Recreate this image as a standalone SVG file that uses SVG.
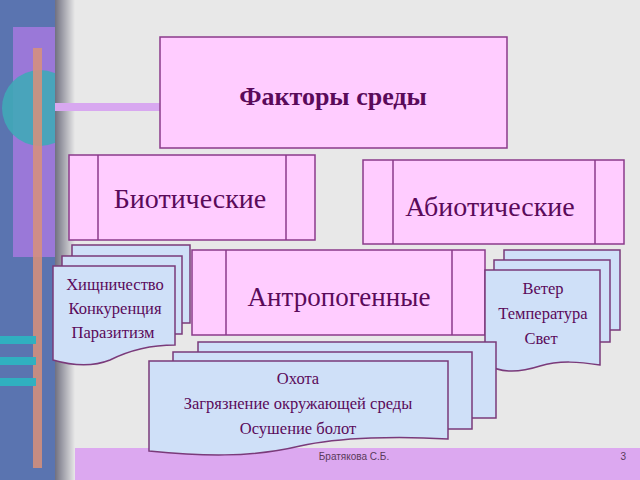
<svg xmlns="http://www.w3.org/2000/svg" width="640" height="480" viewBox="0 0 640 480">
<defs>
<linearGradient id="sh" x1="0" x2="1"><stop offset="0" stop-color="#707080"/><stop offset="1" stop-color="#e8e8e8"/></linearGradient>
<clipPath id="strip"><rect x="0" y="0" width="55" height="480"/></clipPath>
<style>
.pk{fill:#ffccff;stroke:#8b3a8b;stroke-width:1.5}
.dc{fill:#cfe0f8;stroke:#7a3a7a;stroke-width:1.5}
.t{fill:#5a0a5a;text-anchor:middle}
</style>
</defs>
<rect width="640" height="480" fill="#e8e8e8"/>
<g clip-path="url(#strip)">
<rect x="0" y="0" width="55" height="480" fill="#5a74b0"/>
<rect x="13" y="27" width="42" height="230" fill="#9a78d8"/>
<circle cx="40" cy="108" r="38" fill="#40a8b8" opacity="0.9"/>
<rect x="33" y="48" width="9" height="420" fill="#d8907a" opacity="0.85"/>
<rect x="0" y="336" width="36" height="8" fill="#30b0c0"/>
<rect x="0" y="357" width="36" height="8" fill="#30b0c0"/>
<rect x="0" y="378" width="36" height="8" fill="#30b0c0"/>
</g>
<rect x="55" y="0" width="20" height="480" fill="url(#sh)"/>
<rect x="55" y="103" width="105" height="8" fill="#d8a8f0"/>
<rect x="75" y="448" width="565" height="32" fill="#dca8f0"/>
<g font-family="'Liberation Serif','DejaVu Serif',serif">
<g id="title"><rect class="pk" x="160" y="37" width="347" height="111"/><text class="t" x="333" y="105" font-size="26" font-weight="bold">Факторы среды</text></g>
<g id="biotic"><rect class="pk" x="69" y="155" width="246" height="85"/><line class="pk" x1="98" y1="155" x2="98" y2="240"/><line class="pk" x1="286" y1="155" x2="286" y2="240"/><text class="t" x="190" y="208" font-size="28">Биотические</text></g>
<g id="abiotic"><rect class="pk" x="363" y="160" width="261" height="84"/><line class="pk" x1="393" y1="160" x2="393" y2="244"/><line class="pk" x1="595" y1="160" x2="595" y2="244"/><text class="t" x="490" y="216" font-size="28">Абиотические</text></g>
<g id="left-docs">
<rect class="dc" x="72" y="245" width="118" height="78"/>
<rect class="dc" x="62" y="256" width="120" height="78"/>
<path class="dc" d="M53 266H175V345C150 345 130 350 110 360 90 368 70 365 53 360Z"/>
<text class="t" x="115" y="290" font-size="16.5">Хищничество</text>
<text class="t" x="115" y="314" font-size="16.5">Конкуренция</text>
<text class="t" x="113" y="338" font-size="16.5">Паразитизм</text>
</g>
<g id="anthro"><rect class="pk" x="192" y="250" width="293" height="85"/><line class="pk" x1="226" y1="250" x2="226" y2="335"/><line class="pk" x1="452" y1="250" x2="452" y2="335"/><text class="t" x="339" y="306" font-size="27">Антропогенные</text></g>
<g id="right-docs">
<rect class="dc" x="504" y="250" width="116" height="80"/>
<rect class="dc" x="494" y="260" width="116" height="82"/>
<path class="dc" d="M485 270H600V365C580 362 560 360 540 366 515 374 500 372 485 364Z"/>
<text class="t" x="543" y="294" font-size="16.5">Ветер</text>
<text class="t" x="543" y="319" font-size="16.5">Температура</text>
<text class="t" x="541" y="344" font-size="16.5">Свет</text>
</g>
<g id="bottom-docs">
<rect class="dc" x="198" y="342" width="298" height="76"/>
<rect class="dc" x="173" y="352" width="299" height="77"/>
<path class="dc" d="M149 361H448V439C400 436 340 437 300 446 250 458 200 456 149 451Z"/>
<text class="t" x="298" y="384" font-size="16.5">Охота</text>
<text class="t" x="298" y="409" font-size="16.5">Загрязнение окружающей среды</text>
<text class="t" x="298" y="434" font-size="16.5">Осушение болот</text>
</g>
</g>
<g id="connectors"/>
<text x="354" y="460" font-family="'Liberation Sans Narrow','Liberation Sans',sans-serif" font-size="10" fill="#5a3a5a" text-anchor="middle">Братякова С.Б.</text>
<text x="626" y="460" font-family="'Liberation Sans',sans-serif" font-size="10" fill="#5a3a5a" text-anchor="end">3</text>
</svg>
